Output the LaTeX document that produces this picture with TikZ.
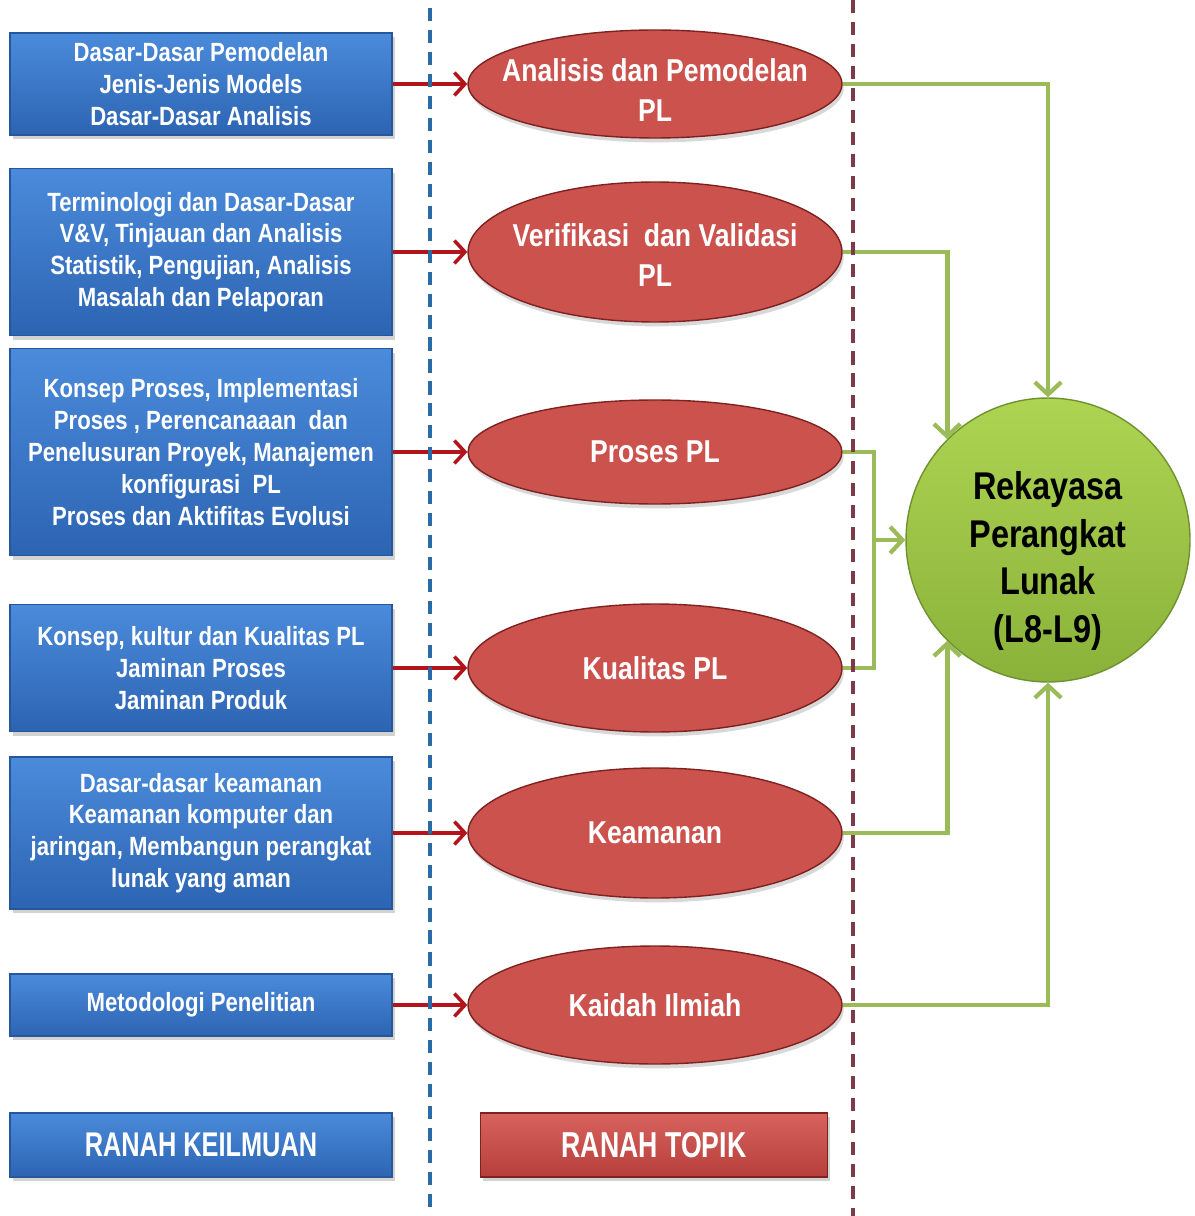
\documentclass[tikz,border=0pt]{standalone}
\usepackage{fontspec}
\setmainfont{Liberation Sans}
\newfontfamily\condfont{Liberation Sans}[FakeStretch=0.84]
\newfontfamily\capsfont{Liberation Sans}[FakeStretch=0.74]
\usetikzlibrary{shapes.geometric, shadows, arrows.meta}

\definecolor{kblueA}{HTML}{4B8BDB}
\definecolor{kblueB}{HTML}{2C64B2}
\definecolor{kblueEdge}{HTML}{26579A}
\definecolor{topicA}{HTML}{CC524E}
\definecolor{topicB}{HTML}{8E2624}
\definecolor{topicEdge}{HTML}{7E2220}
\definecolor{tagA}{HTML}{D8625E}
\definecolor{tagB}{HTML}{B63F3C}
\definecolor{hubA}{HTML}{AED452}
\definecolor{hubB}{HTML}{8AB23A}
\definecolor{hubEdge}{HTML}{6F9230}
\definecolor{linkGreen}{HTML}{9BBB59}
\definecolor{feedRed}{HTML}{B3141C}
\definecolor{sepBlue}{HTML}{2A6AA6}
\definecolor{sepRed}{HTML}{7D3A48}

\pgfdeclareradialshading{topicshade}{\pgfpoint{0bp}{0bp}}{color(0bp)=(topicA); color(34bp)=(topicA); color(50bp)=(topicB)}

\begin{document}
\begin{tikzpicture}[x=0.02cm, y=-0.02cm,
  kbox/.style={rectangle, draw=kblueEdge, line width=0.8pt, top color=kblueA, bottom color=kblueB,
    minimum width=7.64cm, inner sep=0pt, text=white, align=center,
    font=\condfont\bfseries\fontsize{15}{18.1}\selectfont,
    drop shadow={shadow xshift=1.5pt, shadow yshift=-2.5pt, opacity=0.35}},
  topic/.style={ellipse, draw=topicEdge, line width=0.8pt, shading=topicshade,
    minimum width=7.48cm, inner sep=0pt,
    drop shadow={shadow xshift=1pt, shadow yshift=-2.5pt, opacity=0.3}},
  topictext/.style={text=white, align=center,
    font=\condfont\bfseries\fontsize{18}{22.7}\selectfont},
  tag/.style={rectangle, draw=topicEdge, line width=0.8pt, top color=tagA, bottom color=tagB,
    inner sep=0pt, text=white,
    drop shadow={shadow xshift=1.5pt, shadow yshift=-2.5pt, opacity=0.35}},
  hub/.style={circle, draw=hubEdge, line width=0.8pt, top color=hubA, bottom color=hubB,
    minimum size=5.68cm, inner sep=0pt},
  hubtext/.style={text=black, align=center,
    font=\condfont\bfseries\fontsize{22}{27.2}\selectfont},
  feed/.style={draw=feedRed, line width=2.2pt,
    -{Straight Barb[length=6pt, width=13pt, line width=2pt]}},
  link/.style={draw=linkGreen, line width=2.8pt},
  linkarrow/.style={link, -{Straight Barb[length=7pt, width=15pt, line width=2.4pt]}},
  sepline/.style={line width=2pt, dash pattern=on 7.5pt off 5pt}
]
\useasboundingbox[fill=white] (0,0) rectangle (1194,1216);

% knowledge areas (left column)
\node[kbox, minimum height=2.04cm] (b1) at (201,84)
  {Dasar-Dasar Pemodelan\\Jenis-Jenis Models\\Dasar-Dasar Analisis};
\node[kbox, minimum height=3.34cm] (b2) at (201,252)
  {Terminologi dan Dasar-Dasar\\V\&V, Tinjauan dan Analisis\\Statistik, Pengujian, Analisis\\Masalah dan Pelaporan};
\node[kbox, minimum height=4.14cm] (b3) at (201,452)
  {Konsep Proses, Implementasi\\Proses , Perencanaaan\ \ dan\\Penelusuran Proyek, Manajemen\\konfigurasi\ \ PL\\Proses dan Aktifitas Evolusi};
\node[kbox, minimum height=2.54cm] (b4) at (201,668)
  {Konsep, kultur dan Kualitas PL\\Jaminan Proses\\Jaminan Produk};
\node[kbox, minimum height=3.04cm] (b5) at (201,833)
  {Dasar-dasar keamanan\\Keamanan komputer dan\\jaringan, Membangun perangkat\\lunak yang aman};
\node[kbox, minimum height=1.24cm] (b6) at (201,1005)
  {Metodologi Penelitian};
\node[kbox, minimum height=1.28cm, font=\capsfont\bfseries\fontsize{19.5}{22}\selectfont] (b7) at (201,1145)
  {RANAH KEILMUAN};

% topics (middle column)
\node[topic, minimum height=2.16cm, label={[topictext, yshift=-0.12cm]center:{Analisis dan Pemodelan\\PL}}] (e1) at (655,84) {};
\node[topic, minimum height=2.80cm, label={[topictext, yshift=-0.06cm]center:{Verifikasi\ \ dan Validasi\\PL}}] (e2) at (655,252) {};
\node[topic, minimum height=2.08cm, label={[topictext]center:{Proses PL}}] (e3) at (655,452) {};
\node[topic, minimum height=2.56cm, label={[topictext]center:{Kualitas PL}}] (e4) at (655,668) {};
\node[topic, minimum height=2.60cm, label={[topictext]center:{Keamanan}}] (e5) at (655,833) {};
\node[topic, minimum height=2.36cm, label={[topictext]center:{Kaidah Ilmiah}}] (e6) at (655,1005) {};
\node[tag, minimum width=6.94cm, minimum height=1.28cm, font=\capsfont\bfseries\fontsize{20.5}{24}\selectfont] (t7) at (654,1145)
  {RANAH TOPIK};

% target
\node[hub, label={[hubtext, yshift=-0.42cm]center:{Rekayasa\\Perangkat\\Lunak\\(L8-L9)}}] (rp) at (1048,540) {};

% area -> topic
\foreach \i in {1,...,6} \draw[feed] (b\i.east) -- (e\i.west);

% topic -> target
\coordinate (mid) at (874,540);
\draw[linkarrow] (e1.east) -| (rp.north);
\draw[linkarrow] (e2.east) -| (rp.135);
\draw[link] (e3.east) -| (mid) |- (e4.east);
\draw[linkarrow] (mid) -- (rp.west);
\draw[linkarrow] (e5.east) -| (rp.225);
\draw[linkarrow] (e6.east) -| (rp.south);

% column separators
\coordinate (sb1) at (430,8);
\coordinate (sb2) at (430,1216);
\coordinate (sr1) at (853,0);
\coordinate (sr2) at (853,1216);
\draw[sepline, sepBlue] (sb1) -- (sb2);
\draw[sepline, sepRed] (sr1) -- (sr2);
\end{tikzpicture}
\end{document}
